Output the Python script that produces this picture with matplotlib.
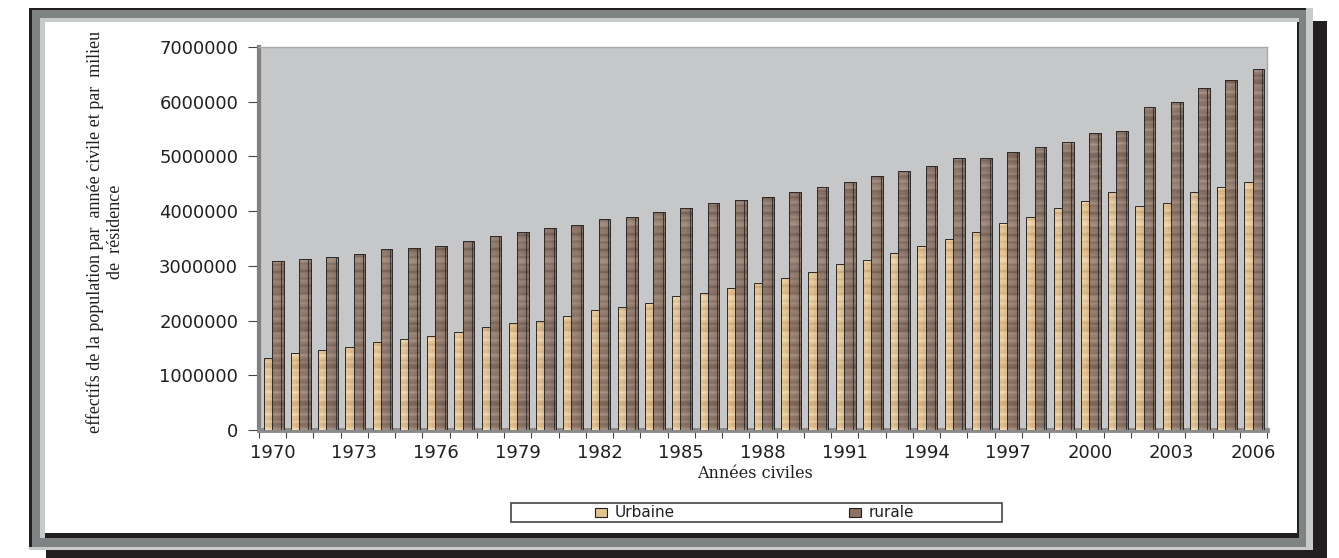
import numpy as np
import matplotlib
matplotlib.use("Agg")
import matplotlib.pyplot as plt
from matplotlib.patches import Rectangle

# ---------------- data ----------------
years = list(range(1970, 2007))
urbaine = [1.32, 1.40, 1.46, 1.52, 1.61, 1.66, 1.72, 1.80, 1.89, 1.95,
           2.00, 2.09, 2.19, 2.24, 2.32, 2.44, 2.50, 2.59, 2.68, 2.78,
           2.88, 3.03, 3.11, 3.23, 3.36, 3.50, 3.61, 3.79, 3.90, 4.05,
           4.19, 4.35, 4.10, 4.14, 4.35, 4.44, 4.54]
rurale = [3.08, 3.13, 3.17, 3.22, 3.31, 3.32, 3.37, 3.46, 3.55, 3.61,
          3.70, 3.75, 3.85, 3.90, 3.99, 4.05, 4.14, 4.20, 4.25, 4.35,
          4.44, 4.54, 4.64, 4.73, 4.83, 4.97, 4.98, 5.08, 5.17, 5.27,
          5.42, 5.47, 5.90, 6.00, 6.25, 6.40, 6.59]
urbaine = [v * 1e6 for v in urbaine]
rurale = [v * 1e6 for v in rurale]
series_names = ["Urbaine", "rurale"]
yticks = [0, 1000000, 2000000, 3000000, 4000000, 5000000, 6000000, 7000000]
label_years = years[::3]
ylabel_text = "effectifs de la population par  année civile et par  milieu\nde  résidence"
xlabel_text = "Années civiles"

# ---------------- figure ----------------
W, H = 1339, 558
fig = plt.figure(figsize=(W / 100, H / 100), dpi=100)
fig.patch.set_facecolor("white")


def fr(x0, y0, x1, y1):
    return (x0 / W, 1 - y1 / H, (x1 - x0) / W, (y1 - y0) / H)


def frect(x0, y0, x1, y1, color, z):
    l, b, w, h = fr(x0, y0, x1, y1)
    fig.patches.append(Rectangle((l, b), w, h, transform=fig.transFigure,
                                 facecolor=color, edgecolor="none", zorder=z))


# frame with drop shadow
frect(46, 21, 1327, 558, "#231f20", 0)
frect(29, 8, 1313, 550, "#c9cbcb", 1)
frect(29, 8, 1306, 547, "#231f20", 2)
frect(32, 10, 1306, 547, "#7f8383", 3)
frect(40, 18, 1299, 538, "#c9cbcb", 4)
frect(45, 22, 1299, 538, "#231f20", 5)
frect(45, 22, 1297, 533, "#ffffff", 6)

# ---------------- axes ----------------
ax = fig.add_axes(fr(259, 47, 1267, 430))
ax.set_zorder(10)
ax.set_facecolor("#c6c7c9")
n = len(years)
x = np.arange(n)

# textures (deterministic horizontal wood-like streaks)
rows = 383
r = np.arange(rows)[:, None].astype(float)
c = np.arange(10)[None, :].astype(float)
tp = 2 * np.pi
t = (0.40 * np.sin(tp * r / 7.3)
     + 0.30 * np.sin(tp * r / 19.0)
     + 0.18 * np.sin(tp * r / 3.7 + 0.08 * c)
     + 0.18 * np.sin(tp * r / 41.0)
     + 0.22 * np.sin(tp * c / 14.0 + 0.5))
t = (t - t.min()) / (t.max() - t.min())


def make_tex(dark, light):
    dark = np.array(dark) / 255.0
    light = np.array(light) / 255.0
    return dark[None, None, :] * (1 - t[..., None]) + light[None, None, :] * t[..., None]


tex_u = make_tex((200, 160, 112), (244, 222, 180))
tex_r = make_tex((108, 86, 74), (170, 148, 134))

bars_u = ax.bar(x - 0.18, urbaine, width=0.30, color="#e2c291",
                edgecolor="#2a2a2a", linewidth=0.6, zorder=3, label=series_names[0])
bars_r = ax.bar(x + 0.185, rurale, width=0.43, color="#8c7264",
                edgecolor="#2a2a2a", linewidth=0.6, zorder=4, label=series_names[1])

for bars, tex, z in ((bars_u, tex_u, 3.5), (bars_r, tex_r, 4.5)):
    for b in bars:
        x0 = b.get_x()
        w = b.get_width()
        h = b.get_height()
        nr = max(2, int(round(rows * h / 7e6)))
        im = ax.imshow(tex[rows - nr:], extent=(x0, x0 + w, 0, h), aspect="auto",
                       interpolation="bilinear", zorder=z, origin="upper")
        im.set_clip_path(b)
        ax.add_patch(Rectangle((x0, 0), w, h, facecolor="none",
                               edgecolor="#2a2a2a", linewidth=0.7, zorder=z + 0.1))

# side face line on rural bars
for b in bars_r:
    xs = b.get_x() + b.get_width() * 0.80
    ax.plot([xs, xs], [0, b.get_height()], color="#2a2a2a", lw=0.6, zorder=4.7)

ax.set_xlim(-0.5, n - 0.5)
ax.set_ylim(0, 7e6)

# spines
ax.spines["left"].set_color("#808080")
ax.spines["left"].set_linewidth(3)
ax.spines["bottom"].set_color("#8a8a8a")
ax.spines["bottom"].set_linewidth(3.5)
ax.spines["top"].set_color("#a9aaab")
ax.spines["top"].set_linewidth(1)
ax.spines["right"].set_color("#a9aaab")
ax.spines["right"].set_linewidth(1)

# ticks
ax.set_yticks(yticks)
ax.set_yticklabels([str(v) for v in yticks])
ax.tick_params(axis="y", length=8, width=0.8, color="#444444", pad=7,
               labelsize=13, labelcolor="#231f20")
ax.set_xticks([years.index(y) for y in label_years])
ax.set_xticklabels([str(y) for y in label_years])
ax.set_xticks(np.arange(-0.5, n, 1), minor=True)
ax.tick_params(axis="x", which="major", length=0, pad=10,
               labelsize=13, labelcolor="#231f20")
ax.tick_params(axis="x", which="minor", length=6, width=0.8, color="#444444")
for lab in ax.get_xticklabels() + ax.get_yticklabels():
    lab.set_fontfamily("DejaVu Sans")

# axis titles
fig.text(105 / W, 1 - 232 / H, ylabel_text, rotation=90, ha="center", va="center",
         family="Liberation Serif", fontsize=13, linespacing=1.25,
         color="#231f20", zorder=20)
fig.text(755 / W, 1 - 473 / H, xlabel_text, ha="center", va="center",
         family="DejaVu Serif", fontsize=11.5, color="#231f20", zorder=20)

# legend (manual, entries centred in each half of the box)
lx0, ly0, lx1, ly1 = 511, 503, 1002, 522
l, b_, w_, h_ = fr(lx0, ly0, lx1, ly1)
fig.patches.append(Rectangle((l, b_), w_, h_, transform=fig.transFigure,
                             facecolor="white", edgecolor="#444444",
                             linewidth=1.2, zorder=20))
entries = [(series_names[0], "#e2c291", 595), (series_names[1], "#8c7264", 849)]
for name, col, px in entries:
    l, b_, w_, h_ = fr(px, 508, px + 12, 517)
    fig.patches.append(Rectangle((l, b_), w_, h_, transform=fig.transFigure,
                                 facecolor=col, edgecolor="#231f20",
                                 linewidth=0.8, zorder=21))
    fig.text((px + 20) / W, 1 - 512.5 / H, name, ha="left", va="center",
             family="DejaVu Sans", fontsize=11, color="#231f20", zorder=21)

fig.savefig("out.png", dpi=100, facecolor=fig.get_facecolor())
